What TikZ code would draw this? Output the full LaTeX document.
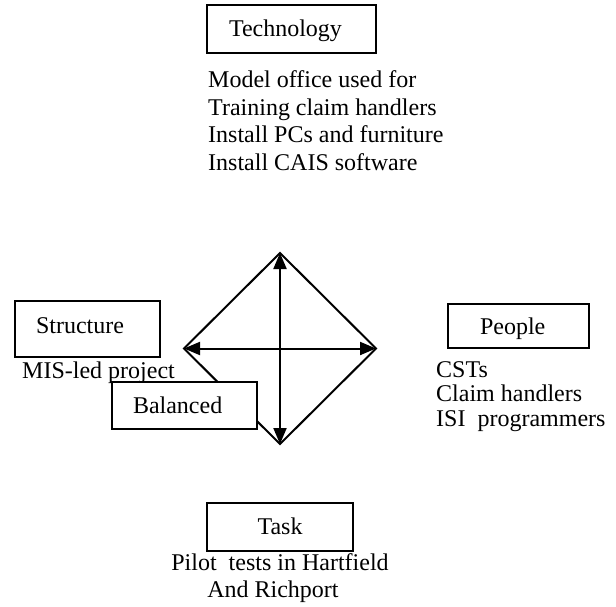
\documentclass[tikz,border=0pt]{standalone}
\usepackage{fontspec}
\setmainfont{Liberation Serif}
\usetikzlibrary{arrows.meta}
\begin{document}
\begin{tikzpicture}[x=1pt,y=-1pt,
  every node/.style={font=\fontsize{24}{27.6}\selectfont, inner sep=0pt},
  frame/.style={draw, line width=2pt, fill=white, text height=19pt, text depth=4pt, inner ysep=0pt},
  note/.style={anchor=north west, align=left, execute at begin node=\rule{0pt}{17pt}},
  edge/.style={line width=2pt, line join=miter},
  cross/.style={line width=2pt, {Triangle[length=16pt,width=13pt]}-{Triangle[length=16pt,width=13pt]}}
]
\useasboundingbox (0,0) rectangle (616,607);

% top: technology
\node[frame, minimum width=169pt, minimum height=48pt, inner xsep=22pt, text width=125pt, align=left]
  (tech) at (291.5,29) {Technology};
\node[note] (technote) at (208,70.5)
  {Model office used for\\Training claim handlers\\Install PCs and furniture\\Install CAIS software};

% left: structure
\node[frame, minimum width=145pt, minimum height=56pt, inner xsep=21pt, text width=103pt, align=left,
      text height=16pt, text depth=8pt]
  (struct) at (87.5,329) {Structure};
\node[note] (structnote) at (22,361) {MIS-led project};

% right: people
\node[frame, minimum width=141pt, minimum height=44pt, inner xsep=32pt, text width=77pt, align=left,
      text height=20pt, text depth=2.8pt]
  (people) at (518.5,326) {People};
\node[note, font=\fontsize{24}{24.5}\selectfont] (peoplenote) at (436,361)
  {CSTs\\Claim handlers\\ISI~~programmers};

% bottom: task
\node[frame, minimum width=146pt, minimum height=48pt, align=center]
  (task) at (280,527) {Task};
\node[anchor=north, align=center, execute at begin node=\rule{0pt}{17pt}] (tasknote) at (280,553)
  {Pilot~~tests in Hartfield\\And Richport\hspace*{14pt}};

% the balance diamond with its two double arrows
\coordinate (N) at (280,253);
\coordinate (E) at (376,348.5);
\coordinate (S) at (280,444);
\coordinate (W) at (184,348.5);
\draw[edge] (N) -- (E) -- (S) -- (W) -- cycle;
\draw[cross] (N) -- (S);
\draw[cross] (W) -- (E);

% label box laid over the lower-left edge
\node[frame, minimum width=145pt, minimum height=47pt, inner xsep=21pt, text width=103pt, align=left]
  (bal) at (184.5,405.5) {Balanced};
\end{tikzpicture}
\end{document}
